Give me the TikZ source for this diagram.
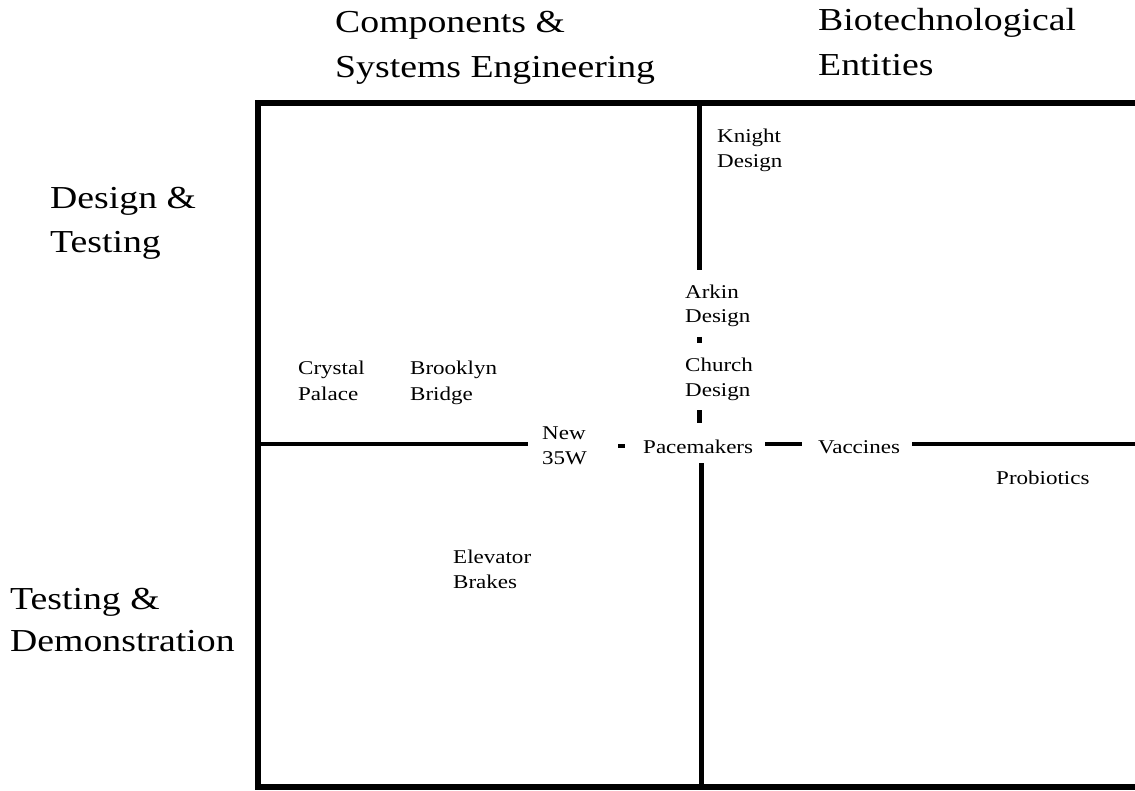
\documentclass[tikz,border=0pt]{standalone}
\usepackage{fontspec}
\setmainfont[FakeStretch=1.18]{Liberation Serif}
\begin{document}
\begin{tikzpicture}[x=1pt,y=-1pt,
  head/.style={anchor=base west,inner sep=0pt,font=\fontsize{32}{44}\selectfont},
  lab/.style={anchor=base west,inner sep=0pt,font=\fontsize{19.5}{25}\selectfont},
  frame/.style={line width=6pt,black},
  divider/.style={line width=5pt,black},
  hdivider/.style={line width=4.5pt,black}]
\useasboundingbox (0,0) rectangle (1135,791);
% frame corners
\coordinate (tl) at (258,103);
\coordinate (tr) at (1136,103);
\coordinate (bl) at (258,787);
\coordinate (br) at (1136,787);
\draw[frame,line cap=rect] (tr) -- (tl) -- (bl) -- (br);
% vertical divider pieces
\coordinate (v1a) at (699,103);  \coordinate (v1b) at (699,270);
\coordinate (v2a) at (699,337);  \coordinate (v2b) at (699,343);
\coordinate (v3a) at (699,410);  \coordinate (v3b) at (699,423);
\coordinate (v4a) at (701,463);  \coordinate (v4b) at (701,787);
\draw[divider] (v1a) -- (v1b);
\draw[divider] (v2a) -- (v2b);
\draw[divider] (v3a) -- (v3b);
\draw[divider] (v4a) -- (v4b);
% horizontal divider pieces
\coordinate (h1a) at (258,444);  \coordinate (h1b) at (528,444);
\coordinate (h2a) at (618,446);  \coordinate (h2b) at (625,446);
\coordinate (h3a) at (765,444);  \coordinate (h3b) at (802,444);
\coordinate (h4a) at (912,444);  \coordinate (h4b) at (1136,444);
\draw[hdivider] (h1a) -- (h1b);
\draw[hdivider] (h2a) -- (h2b);
\draw[hdivider] (h3a) -- (h3b);
\draw[hdivider] (h4a) -- (h4b);
% headings
\node[head] (cse1) at (335,33) {Components \&};
\node[head] (cse2) at (335,78) {Systems Engineering};
\node[head] (bio1) at (818,31) {Biotechnological};
\node[head] (bio2) at (818,76) {Entities};
\node[head] (dt1) at (50,209) {Design \&};
\node[head] (dt2) at (50,253) {Testing};
\node[head] (td1) at (10,609) {Testing \&};
\node[head] (td2) at (10,651) {Demonstration};
% labels
\node[lab] (kn1) at (717,143) {Knight};
\node[lab] (kn2) at (717,168) {Design};
\node[lab] (ar1) at (685,299) {Arkin};
\node[lab] (ar2) at (685,323) {Design};
\node[lab] (ch1) at (685,372) {Church};
\node[lab] (ch2) at (685,396) {Design};
\node[lab] (cp1) at (298,375) {Crystal};
\node[lab] (cp2) at (298,400) {Palace};
\node[lab] (bb1) at (410,375) {Brooklyn};
\node[lab] (bb2) at (410,400) {Bridge};
\node[lab] (nw1) at (542,439) {New};
\node[lab] (nw2) at (542,464) {35W};
\node[lab] (pm) at (643,453) {Pacemakers};
\node[lab] (vc) at (818,453) {Vaccines};
\node[lab] (pb) at (996,484) {Probiotics};
\node[lab] (eb1) at (453,563) {Elevator};
\node[lab] (eb2) at (453,588) {Brakes};
\end{tikzpicture}
\end{document}
